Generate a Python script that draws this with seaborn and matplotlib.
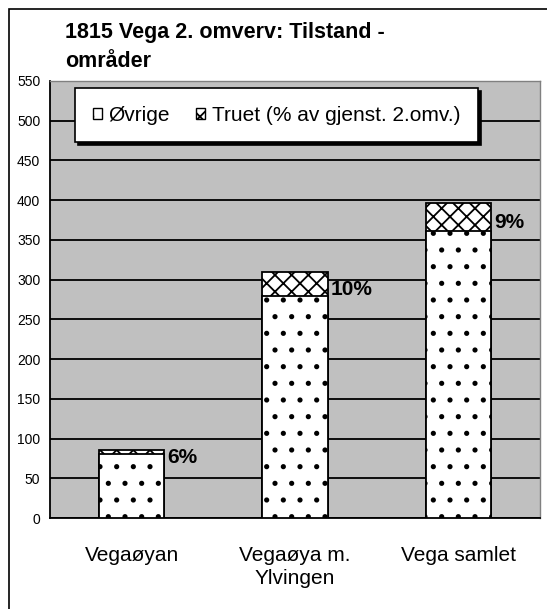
import numpy as np
import pandas as pd
import seaborn as sns
import matplotlib.pyplot as plt
from matplotlib.patches import Patch, Rectangle

# data
omrader = ['Vegaøyan', 'Vegaøya m.\nYlvingen', 'Vega samlet']
ovrige = [81, 280, 361]
truet = [5, 30, 36]
truet_pct = [6, 10, 9]

df = pd.DataFrame({'omrade': omrader, 'ovrige': ovrige, 'truet': truet})
df['total'] = df['ovrige'] + df['truet']

sns.set_style('white')
plt.rcParams['font.family'] = ['Liberation Sans', 'DejaVu Sans']
plt.rcParams['text.color'] = 'black'
plt.rcParams['xtick.color'] = 'black'
plt.rcParams['ytick.color'] = 'black'
plt.rcParams['hatch.linewidth'] = 1.3

fig = plt.figure(figsize=(5.47, 6.09), dpi=100)
ax = fig.add_axes([50 / 547, 1 - 518 / 609, 490 / 547, 437 / 609])
ax.set_facecolor('#C0C0C0')

# stacked bars: total (truet on top) first, then øvrige over it
sns.barplot(data=df, x='omrade', y='total', color='white', width=0.4,
            edgecolor='black', linewidth=1.3, saturation=1, ax=ax, zorder=3)
n = len(ax.patches)
sns.barplot(data=df, x='omrade', y='ovrige', color='white', width=0.4,
            edgecolor='black', linewidth=1.3, saturation=1, ax=ax, zorder=4)
for i, p in enumerate(ax.patches):
    p.set_hatch('xx' if i < n else '.')

# percentage labels beside the truet segment
for i in range(len(omrader)):
    mid = ovrige[i] + truet[i] / 2
    ax.annotate(f'{truet_pct[i]}%', xy=(i + 0.2, mid), xytext=(2, -4),
                textcoords='offset points', ha='left', va='center',
                fontsize=15, fontweight='bold', zorder=5)

ax.set_ylim(0, 550)
ax.set_xlim(-0.5, len(omrader) - 0.5)
ax.set_yticks(np.arange(0, 551, 50))
ax.yaxis.grid(True, color='black', linewidth=1.3, zorder=1)
ax.set_axisbelow(True)
ax.set_xlabel('')
ax.set_ylabel('')

ax.set_xticks(np.arange(-0.5, len(omrader)), minor=True)
ax.tick_params(axis='x', which='major', length=0, pad=20, labelsize=15)
ax.tick_params(axis='x', which='minor', length=5, width=1.2, color='black',
               direction='out')
ax.tick_params(axis='y', length=4, width=1.2, color='black', direction='out',
               pad=3, labelsize=10)
for lbl in ax.get_xticklabels():
    lbl.set_linespacing(1.3)

ax.spines['left'].set_color('black')
ax.spines['left'].set_linewidth(1.3)
ax.spines['bottom'].set_color('black')
ax.spines['bottom'].set_linewidth(1.3)
ax.spines['top'].set_color('#808080')
ax.spines['right'].set_color('#808080')
ax.spines['top'].set_linewidth(1)
ax.spines['right'].set_linewidth(1)

handles = [Patch(facecolor='white', edgecolor='black', hatch='.', label='Øvrige'),
           Patch(facecolor='white', edgecolor='black', hatch='xx',
                 label='Truet (% av gjenst. 2.omv.)')]
leg = ax.legend(handles=handles, loc='upper left',
                bbox_to_anchor=(0.051, 0.86, 0.822, 0.124), mode='expand',
                ncol=2, fontsize=15, frameon=True, fancybox=False,
                shadow={'color': 'black', 'alpha': 1}, handlelength=0.45,
                handleheight=0.45, handletextpad=0.3, columnspacing=1.4,
                borderpad=0.85, borderaxespad=0)
leg.get_frame().set_edgecolor('black')
leg.get_frame().set_linewidth(1.2)
leg.get_frame().set_facecolor('white')
leg.get_frame().set_alpha(1)
leg.set_zorder(6)

fig.text(65 / 547, 1 - 47 / 609, '1815 Vega 2. omverv: Tilstand -\nområder',
         fontsize=15.5, fontweight='bold', ha='left', va='center',
         linespacing=1.45)

# outer chart border (runs off the right and bottom edges)
fig.patches.append(Rectangle((9 / 547, -0.5), 2, 1 - 9 / 609 + 0.5,
                             transform=fig.transFigure, fill=False,
                             edgecolor='black', linewidth=1.2))

fig.savefig('out.png', dpi=100)
